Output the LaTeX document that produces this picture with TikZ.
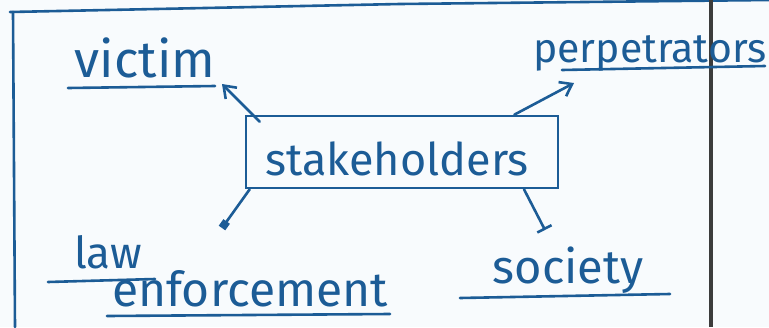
\documentclass[tikz,border=0pt]{standalone}
\usepackage{fontspec}
\setmainfont{Fira Sans}
\usetikzlibrary{arrows.meta}
\definecolor{ink}{RGB}{28,92,150}
\definecolor{paper}{RGB}{248,251,253}
\definecolor{rule}{RGB}{60,60,60}
\tikzset{
  pen/.style={draw=ink, line width=2.6pt, line cap=round},
  word/.style={text=ink, font=\fontsize{46}{50}\selectfont, inner sep=0pt, anchor=base},
  ptr/.style={pen, -{Straight Barb[length=11pt,width=16pt,line width=2.6pt]}},
  sqtip/.style={pen, -{Square[length=8pt,width=8pt]}},
  bartip/.style={pen, -{Bar[width=16pt,line width=2.6pt]}},
}
\begin{document}
\begin{tikzpicture}[x=1pt,y=-1pt]
  \useasboundingbox (0,0) rectangle (769,327);
  \fill[paper] (0,0) rectangle (769,327);

  % page frame
  \draw[pen] (10,12) -- (400,4) -- (769,0);
  \draw[pen] (13,12) -- (15,327);
  \draw[draw=rule, line width=4.5pt] (711,0) -- (711,327);

  % central box
  \node[pen, draw, minimum width=312pt, minimum height=72pt, inner sep=0pt] (sh) at (402,152) {};
  \node[word, font=\fontsize{45}{50}\selectfont] (shtext) at (397,175) {stakeholders};

  % labels
  \node[word, font=\fontsize{51}{56}\selectfont] (vic) at (145,77) {victim};
  \node[word, anchor=base west, font=\fontsize{41}{46}\selectfont] (perp) at (533,62) {perpetrators};
  \node[word, font=\fontsize{44}{48}\selectfont] (law) at (108,268) {law};
  \node[word, font=\fontsize{48}{52}\selectfont] (enf) at (250,306) {enforcement};
  \node[word, font=\fontsize{47}{51}\selectfont] (soc) at (568,283) {society};

  % underlines
  \draw[pen] (68,88) -- (215,86);
  \draw[pen] (562,70) -- (765,66);
  \draw[pen] (48,282) -- (155,279);
  \draw[pen] (107,316) -- (390,314);
  \draw[pen] (460,298) -- (670,294);

  % connector ends
  \coordinate (vicend) at (222,84);
  \coordinate (perpend) at (574,83);
  \coordinate (lawend) at (222,228);
  \coordinate (socend) at (545,230);

  % connectors
  \draw[ptr] ([xshift=15pt,yshift=-7pt]sh.north west) -- (vicend);
  \draw[ptr] ([xshift=-45pt]sh.north east) -- (perpend);
  \draw[sqtip] ([xshift=5pt]sh.south west) -- (lawend);
  \draw[bartip] ([xshift=122pt]sh.south) -- (socend);
\end{tikzpicture}
\end{document}
